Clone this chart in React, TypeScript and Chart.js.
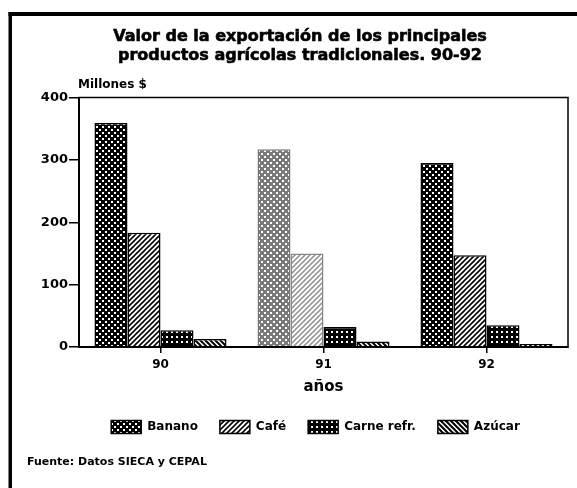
import React, { useEffect, useRef } from "react";
import { Chart, registerables } from "chart.js";

Chart.register(...registerables);

const years = ["90", "91", "92"];
const banano = [359, 317, 295];
const cafe = [183, 150, 147];
const carne = [27, 32, 35];
const azucar = [13, 9, 5];
const seriesNames = ["Banano", "Café", "Carne refr.", "Azúcar"];
const yMin = 0;
const yMax = 400;
const yStep = 100;
const titleLines = [
  "Valor de la exportación de los principales",
  "productos agrícolas tradicionales. 90-92",
];
const yUnit = "Millones $";
const xTitle = "años";
const source = "Fuente: Datos SIECA y CEPAL";

const FONT = '"DejaVu Sans", "Liberation Sans", sans-serif';

type Kind = "dots" | "fwd" | "grid" | "back";

function makePattern(kind: Kind, ink: string): CanvasPattern | string {
  const c = document.createElement("canvas");
  const s = kind === "grid" ? 5 : kind === "dots" ? 6 : 5;
  c.width = s;
  c.height = s;
  const g = c.getContext("2d");
  if (!g) return ink;
  if (kind === "dots") {
    g.fillStyle = ink;
    g.fillRect(0, 0, s, s);
    g.fillStyle = "#fff";
    g.fillRect(0, 0, 2, 2);
    g.fillRect(3, 3, 2, 2);
  } else if (kind === "grid") {
    g.fillStyle = ink;
    g.fillRect(0, 0, s, s);
    g.fillStyle = "#fff";
    g.fillRect(1, 1, 2, 2);
  } else {
    g.fillStyle = "#fff";
    g.fillRect(0, 0, s, s);
    g.strokeStyle = ink;
    g.lineWidth = kind === "back" ? 2 : 1.6;
    g.beginPath();
    if (kind === "fwd") {
      g.moveTo(-1, 1); g.lineTo(1, -1);
      g.moveTo(0, s); g.lineTo(s, 0);
      g.moveTo(s - 1, s + 1); g.lineTo(s + 1, s - 1);
    } else {
      g.moveTo(-1, s - 1); g.lineTo(1, s + 1);
      g.moveTo(0, 0); g.lineTo(s, s);
      g.moveTo(s - 1, -1); g.lineTo(s + 1, 1);
    }
    g.stroke();
  }
  return g.createPattern(c, "repeat") || ink;
}

const LEGEND_SHIFT = 16.5;

const framePlugin = {
  id: "frameAndTexts",
  afterLayout(chart: any) {
    const lg = chart.legend;
    if (lg) {
      lg.left += LEGEND_SHIFT;
      lg.right += LEGEND_SHIFT;
    }
  },
  afterDraw(chart: any) {
    const ctx = chart.ctx as CanvasRenderingContext2D;
    const { left, top, right, bottom } = chart.chartArea;
    ctx.save();
    ctx.fillStyle = "#000";
    ctx.fillRect(8.5, 12, 3.5, 476);
    ctx.fillRect(8.5, 12, 580, 4);
    ctx.strokeStyle = "#000";
    ctx.lineWidth = 1.5;
    ctx.strokeRect(left, top, right - left, bottom - top);
    ctx.textBaseline = "middle";
    ctx.textAlign = "center";
    ctx.font = `bold 16px ${FONT}`;
    ctx.lineWidth = 0.6;
    ctx.fillText(titleLines[0], 300, 37);
    ctx.strokeText(titleLines[0], 300, 37);
    ctx.fillText(titleLines[1], 300, 56);
    ctx.strokeText(titleLines[1], 300, 56);
    ctx.textAlign = "left";
    ctx.font = `bold 12px ${FONT}`;
    ctx.fillText(yUnit, 78, 85);
    ctx.font = `bold 11px ${FONT}`;
    ctx.fillText(source, 27, 462);
    ctx.restore();
  },
};

export default function App() {
  const ref = useRef<HTMLCanvasElement | null>(null);

  useEffect(() => {
    const canvas = ref.current;
    if (!canvas) return;
    const pats = {
      banano: makePattern("dots", "#000"),
      bananoF: makePattern("dots", "#7a7a7a"),
      cafe: makePattern("fwd", "#000"),
      cafeF: makePattern("fwd", "#9a9a9a"),
      carne: makePattern("grid", "#000"),
      azucar: makePattern("back", "#000"),
    };
    const pick = (n: any, f: any) => (c: any) => (c.dataIndex === 1 ? f : n);
    const values = [banano, cafe, carne, azucar];
    const fills = [
      pick(pats.banano, pats.bananoF),
      pick(pats.cafe, pats.cafeF),
      pats.carne,
      pats.azucar,
    ];
    const borders = [
      pick("#000", "#777"),
      pick("#000", "#888"),
      "#000",
      "#000",
    ];
    const chart = new Chart(canvas, {
      type: "bar",
      data: {
        labels: years,
        datasets: seriesNames.map((name, i) => ({
          label: name,
          data: values[i],
          backgroundColor: fills[i] as any,
          borderColor: borders[i] as any,
          borderWidth: 1.5,
          categoryPercentage: 0.81,
          barPercentage: 1,
        })),
      },
      options: {
        animation: false,
        responsive: false,
        devicePixelRatio: 1,
        layout: { padding: { left: 30, right: 9, top: 97.5, bottom: 44.5 } },
        plugins: {
          title: { display: false },
          tooltip: { enabled: false },
          legend: {
            position: "bottom",
            labels: {
              color: "#000",
              boxWidth: 30,
              boxHeight: 13,
              padding: 22,
              font: { family: FONT, size: 12, weight: "bold" },
            },
          },
        },
        scales: {
          x: {
            grid: {
              offset: false,
              drawOnChartArea: false,
              tickLength: 6,
              color: "#000",
              lineWidth: 1.5,
            },
            border: { color: "#000", width: 2 },
            ticks: {
              color: "#000",
              padding: 5,
              font: { family: FONT, size: 12, weight: "bold" },
            },
            title: {
              display: true,
              text: xTitle,
              color: "#000",
              font: { family: FONT, size: 15, weight: "bold" },
              padding: { top: 0, bottom: 2.5 },
            },
            afterFit: (s: any) => {
              s.height = 51.5;
            },
          },
          y: {
            min: yMin,
            max: yMax,
            grid: {
              drawOnChartArea: false,
              tickLength: 10,
              color: "#000",
              lineWidth: 1.5,
            },
            border: { color: "#000", width: 2 },
            ticks: {
              stepSize: yStep,
              color: "#000",
              padding: 1,
              font: { family: FONT, size: 13, weight: "bold" },
            },
            afterFit: (s: any) => {
              s.width = 49;
            },
          },
        },
      },
      plugins: [framePlugin],
    });
    return () => chart.destroy();
  }, []);

  return (
    <div style={{ position: "absolute", left: 0, top: 0, width: 577, height: 488, background: "#fff" }}>
      <canvas ref={ref} width={577} height={488} style={{ width: 577, height: 488, display: "block" }} />
    </div>
  );
}
